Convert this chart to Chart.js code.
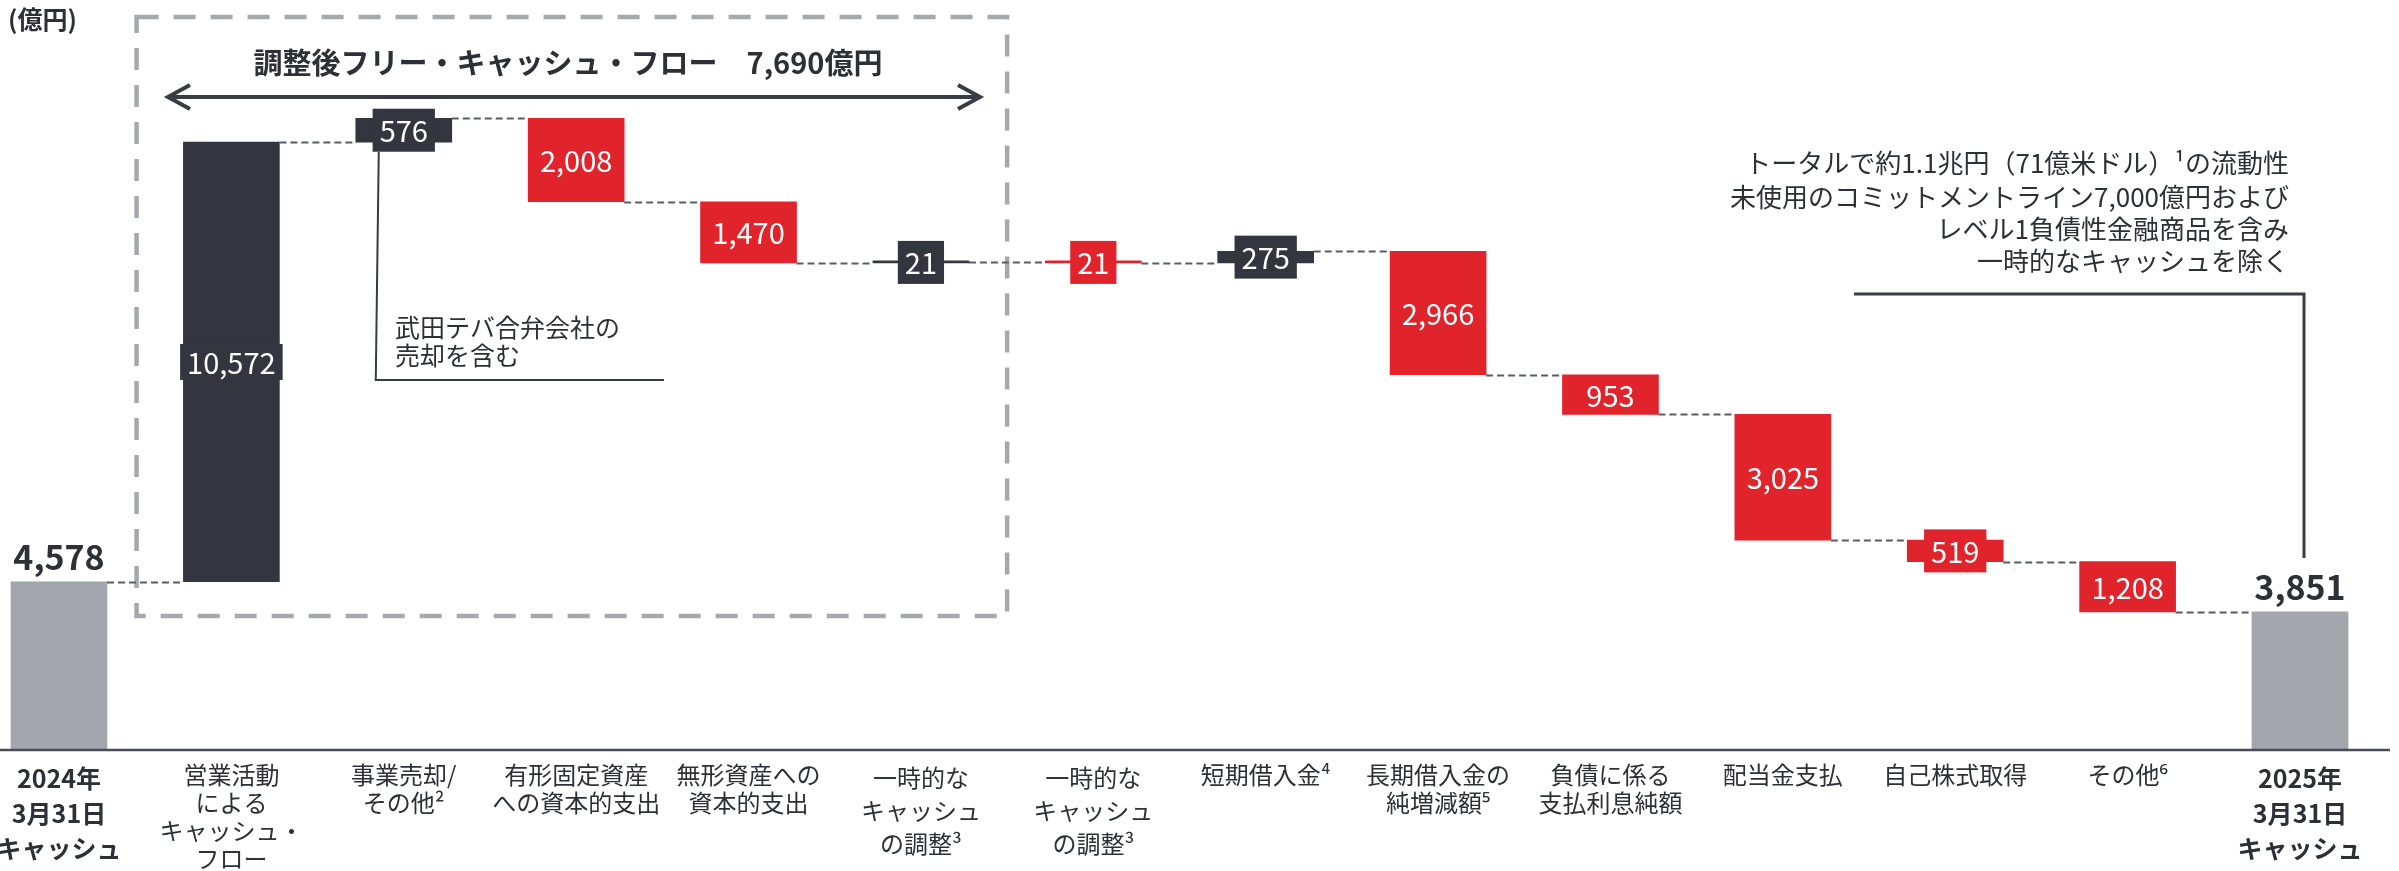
<!DOCTYPE html>
<html lang="ja">
<head>
<meta charset="utf-8">
<title>キャッシュ・フロー</title>
<script src="https://cdn.jsdelivr.net/npm/chart.js@4/dist/chart.umd.min.js"></script>
<style>
  html, body { margin: 0; padding: 0; background: #fff; }
  #wrap { width: 2399px; height: 871px; }
</style>
</head>
<body>
<div id="wrap"><canvas id="cf" width="2399" height="871"></canvas></div>
<script>
var JP = '"Noto Sans CJK JP", "Noto Sans", sans-serif';
var DARK = '#33363f';
var RED = '#e1242b';
var GRAY = '#a3a5ac';
var INK = '#2e3038';

// categories (multi-line labels)
var categories = [
  ['2024年', '3月31日', 'キャッシュ'],
  ['営業活動', 'による', 'キャッシュ・', 'フロー'],
  ['事業売却/', 'その他²'],
  ['有形固定資産', 'への資本的支出'],
  ['無形資産への', '資本的支出'],
  ['一時的な', 'キャッシュ', 'の調整³'],
  ['一時的な', 'キャッシュ', 'の調整³'],
  ['短期借入金⁴'],
  ['長期借入金の', '純増減額⁵'],
  ['負債に係る', '支払利息純額'],
  ['配当金支払'],
  ['自己株式取得'],
  ['その他⁶'],
  ['2025年', '3月31日', 'キャッシュ']
];
// change per step (億円); first and last are balances
var changes = [4578, 10572, 576, -2008, -1470, 21, -21, 275, -2966, -953, -3025, -519, -1208, 3851];
var isTotal = [true, false, false, false, false, false, false, false, false, false, false, false, false, true];

var fcfTitle = '調整後フリー・キャッシュ・フロー　7,690億円';
var unitLabel = '(億円)';
var noteTeva = ['武田テバ合弁会社の', '売却を含む'];
var noteLiquidity = [
  'トータルで約1.1兆円（71億米ドル）¹の流動性',
  '未使用のコミットメントライン7,000億円および',
  'レベル1負債性金融商品を含み',
  '一時的なキャッシュを除く'
];

// floating ranges for the waterfall
var ranges = [];
var colors = [];
var ends = [];
var level = 0;
for (var i = 0; i < changes.length; i++) {
  var v = changes[i];
  if (isTotal[i]) {
    ranges.push([0, v]);
    level = v;
    colors.push(GRAY);
  } else {
    ranges.push([level, level + v]);
    level += v;
    colors.push(v > 0 ? DARK : RED);
  }
  ends.push(level);
}

function fmt(n) {
  return Math.abs(n).toLocaleString('en-US');
}

var waterfallDeco = {
  id: 'waterfallDeco',
  beforeDatasetsDraw: function (chart) {
    var ctx = chart.ctx;
    var x = chart.scales.x;
    ctx.save();
    // dashed bracket round adjusted free cash flow
    ctx.strokeStyle = '#a6a8ae';
    ctx.lineWidth = 4.5;
    ctx.setLineDash([22, 15]);
    var l = x.getPixelForValue(0.45), r = x.getPixelForValue(5.5);
    ctx.strokeRect(l, 17, r - l, 599);
    ctx.setLineDash([]);

    // title + double arrow
    ctx.fillStyle = INK;
    ctx.font = 'bold 29px ' + JP;
    ctx.textAlign = 'center';
    ctx.textBaseline = 'middle';
    ctx.fillText(fcfTitle, 568, 63);
    ctx.strokeStyle = '#3a3c44';
    ctx.lineWidth = 4;
    ctx.beginPath();
    ctx.moveTo(168, 97); ctx.lineTo(980, 97);
    ctx.moveTo(190, 85); ctx.lineTo(168, 97); ctx.lineTo(190, 109);
    ctx.moveTo(958, 85); ctx.lineTo(980, 97); ctx.lineTo(958, 109);
    ctx.stroke();

    // unit
    ctx.font = 'bold 25px ' + JP;
    ctx.textAlign = 'left';
    ctx.fillText(unitLabel, 8, 19);
    ctx.restore();
  },
  afterDatasetsDraw: function (chart) {
    var ctx = chart.ctx;
    var x = chart.scales.x, y = chart.scales.y;
    var bars = chart.getDatasetMeta(0).data;
    ctx.save();

    // connectors
    ctx.strokeStyle = '#5a5c63';
    ctx.lineWidth = 2;
    ctx.setLineDash([7, 4]);
    for (var i = 0; i < bars.length - 1; i++) {
      var py = Math.round(y.getPixelForValue(ends[i])) + 0.5;
      ctx.beginPath();
      ctx.moveTo(bars[i].x + bars[i].width / 2, py);
      ctx.lineTo(bars[i + 1].x - bars[i + 1].width / 2, py);
      ctx.stroke();
    }
    ctx.setLineDash([]);

    // axis line across the whole width
    ctx.strokeStyle = '#4a4c53';
    ctx.lineWidth = 2.5;
    ctx.beginPath();
    ctx.moveTo(0, chart.chartArea.bottom);
    ctx.lineTo(2390, chart.chartArea.bottom);
    ctx.stroke();

    // value labels
    ctx.textAlign = 'center';
    ctx.textBaseline = 'middle';
    var boxBottom576 = 0;
    for (var j = 0; j < bars.length; j++) {
      var b = bars[j];
      var txt = fmt(changes[j]);
      if (isTotal[j]) {
        ctx.font = 'bold 34px ' + JP;
        ctx.fillStyle = INK;
        ctx.fillText(txt, b.x, y.getPixelForValue(changes[j]) - 25);
        continue;
      }
      var y0 = y.getPixelForValue(ranges[j][0]), y1 = y.getPixelForValue(ranges[j][1]);
      var cy = (y0 + y1) / 2;
      var bh = Math.abs(y1 - y0) < 36 ? 43 : 36;
      ctx.font = '29px ' + JP;
      var w = ctx.measureText(txt).width + 14;
      ctx.fillStyle = colors[j];
      ctx.fillRect(b.x - w / 2, cy - bh / 2, w, bh);
      ctx.fillStyle = '#ffffff';
      ctx.fillText(txt, b.x, cy + 1);
      if (j === 2) boxBottom576 = cy + bh / 2;
    }

    // callout: Teva JV divestiture
    var cx = x.getPixelForValue(2) - 25;
    ctx.strokeStyle = '#3a3c44';
    ctx.lineWidth = 2;
    ctx.beginPath();
    ctx.moveTo(cx, boxBottom576);
    ctx.lineTo(cx - 3, 380);
    ctx.lineTo(664, 380);
    ctx.stroke();
    ctx.fillStyle = INK;
    ctx.font = '25px ' + JP;
    ctx.textAlign = 'left';
    ctx.fillText(noteTeva[0], 395, 327);
    ctx.fillText(noteTeva[1], 395, 355);

    // callout: liquidity
    var ex = x.getPixelForValue(13) + 4;
    ctx.lineWidth = 3;
    ctx.beginPath();
    ctx.moveTo(1854, 294);
    ctx.lineTo(ex, 294);
    ctx.lineTo(ex, 558);
    ctx.stroke();
    ctx.font = '26px ' + JP;
    ctx.textAlign = 'right';
    var ly = [163, 197, 229, 261];
    for (var k = 0; k < noteLiquidity.length; k++) {
      ctx.fillText(noteLiquidity[k], 2289, ly[k]);
    }
    ctx.restore();
  }
};

new Chart(document.getElementById('cf'), {
  type: 'bar',
  data: {
    labels: categories,
    datasets: [{
      data: ranges,
      backgroundColor: colors,
      borderWidth: 0,
      barThickness: 96,
      minBarLength: 2,
      clip: { left: false, top: false, right: false, bottom: 0 }
    }]
  },
  options: {
    responsive: false,
    devicePixelRatio: 1,
    animation: false,
    events: [],
    layout: { padding: { left: 59, right: 99, top: 10, bottom: 0 } },
    plugins: { legend: { display: false }, tooltip: { enabled: false } },
    scales: {
      x: {
        type: 'category',
        offset: false,
        grid: { display: false, drawTicks: false },
        border: { display: false },
        ticks: {
          autoSkip: false,
          maxRotation: 0,
          padding: 11,
          color: INK,
          font: function (c) {
            var i = c.index;
            if (i === 0 || i === 13) return { family: JP, size: 25, weight: 'bold', lineHeight: 1.4 };
            if (i === 5 || i === 6) return { family: JP, size: 24, lineHeight: 1.38 };
            return { family: JP, size: 24, lineHeight: 1.17 };
          }
        },
        afterFit: function (s) {
          s.height = 121;
          s.paddingLeft = 0;
          s.paddingRight = 0;
        }
      },
      y: { display: false, min: 530, max: 18330 }
    }
  },
  plugins: [waterfallDeco]
});
</script>
</body>
</html>
